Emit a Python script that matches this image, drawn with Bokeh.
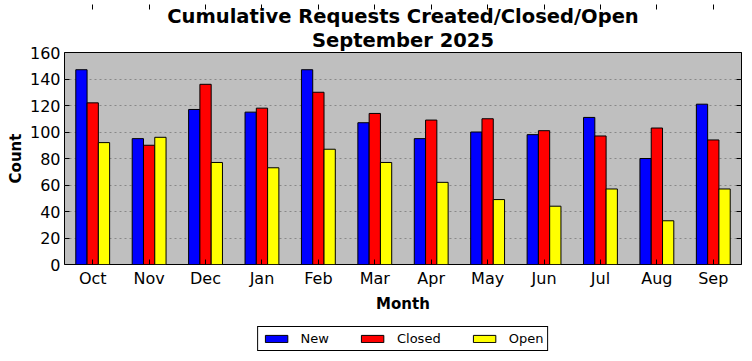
from bokeh.plotting import figure
from bokeh.models import (FactorRange, Range1d, ColumnDataSource, Legend, LegendItem,
                          CategoricalAxis, LinearAxis, Title, SingleIntervalTicker, Spacer)
from bokeh.layouts import column
from bokeh.transform import dodge
from bokeh.embed import file_html
from bokeh.resources import INLINE

months = ["Oct", "Nov", "Dec", "Jan", "Feb", "Mar", "Apr", "May", "Jun", "Jul", "Aug", "Sep"]
new_vals = [147, 95, 117, 115, 147, 107, 95, 100, 98, 111, 80, 121]
closed_vals = [122, 90, 136, 118, 130, 114, 109, 110, 101, 97, 103, 94]
open_vals = [92, 96, 77, 73, 87, 77, 62, 49, 44, 57, 33, 57]
series_names = ["New", "Closed", "Open"]
series_colors = ["blue", "red", "yellow"]

src = ColumnDataSource(dict(month=months, new=new_vals, closed=closed_vals, open=open_vals))
cols = ["new", "closed", "open"]
offsets = [-0.2, 0.0, 0.2]

FONT = "DejaVu Sans"
W = 743

p = figure(width=W, height=311, output_backend="svg", toolbar_location=None,
           x_range=FactorRange(*months, range_padding=0), y_range=Range1d(0, 160),
           min_border_left=64, min_border_right=2, min_border_top=0, min_border_bottom=50)
p.background_fill_color = "#bfbfbf"
p.border_fill_color = "white"
p.outline_line_color = "black"
p.outline_line_width = 1

p.title = None
p.add_layout(Title(text="September 2025", align="center", text_font=FONT,
                   text_font_size="19.5px", text_font_style="bold", text_color="black",
                   offset=0, standoff=1), "above")
p.add_layout(Title(text="Cumulative Requests Created/Closed/Open", align="center", text_font=FONT,
                   text_font_size="19.5px", text_font_style="bold", text_color="black",
                   standoff=-3), "above")

for off, col, color in zip(offsets, cols, series_colors):
    p.vbar(x=dodge("month", off, range=p.x_range), top=col, width=0.2, source=src,
           fill_color=color, line_color="black", line_width=1)

# grid
p.xgrid.grid_line_color = None
p.ygrid.grid_line_color = "#888888"
p.ygrid.grid_line_dash = "2 3"
p.ygrid.grid_line_width = 1

def style_axis(ax, show_labels=True):
    ax.major_tick_in = 5
    ax.major_tick_out = 0
    ax.minor_tick_in = 0
    ax.minor_tick_out = 0
    ax.axis_line_color = None
    ax.major_tick_line_color = "black"
    ax.major_label_text_font = FONT
    ax.major_label_text_font_size = "16px" if show_labels else "0px"
    ax.major_label_text_color = "black" if show_labels else None
    ax.axis_label_text_font = FONT
    ax.axis_label_text_font_size = "15px"
    ax.axis_label_text_font_style = "bold"
    ax.axis_label_text_color = "black"

xa = p.xaxis[0]
style_axis(xa)
xa.axis_label = "Month"
xa.major_label_standoff = 4
xa.axis_label_standoff = 4

ya = p.yaxis[0]
ya.ticker = SingleIntervalTicker(interval=20)
style_axis(ya)
ya.axis_label = "Count"
ya.major_label_standoff = 4
ya.axis_label_standoff = 2

top = CategoricalAxis()
style_axis(top, False)
top.major_label_standoff = 0
p.add_layout(top, "above")

right = LinearAxis(ticker=SingleIntervalTicker(interval=20))
style_axis(right, False)
right.major_label_standoff = 0
p.add_layout(right, "right")

# legend strip below the chart (its renderers lie outside its visible range)
lg = figure(width=W, height=38, output_backend="svg", toolbar_location=None,
            x_range=FactorRange(*months), y_range=Range1d(1000, 1001),
            x_axis_type=None, y_axis_type=None,
            min_border_left=0, min_border_right=0, min_border_top=0, min_border_bottom=0,
            outline_line_color=None)
lg.grid.visible = False
lg.border_fill_color = "white"
lg.background_fill_color = "white"
items = []
for name, col, color in zip(series_names, cols, series_colors):
    r = lg.vbar(x="month", top=col, width=0.2, source=src,
                fill_color=color, line_color="black", line_width=1)
    items.append(LegendItem(label=name, renderers=[r]))

legend = Legend(items=items, orientation="horizontal", location="top_center")
legend.border_line_color = "black"
legend.border_line_width = 1
legend.border_line_alpha = 1
legend.background_fill_color = "white"
legend.background_fill_alpha = 1
legend.label_text_font = FONT
legend.label_text_font_size = "13px"
legend.label_text_color = "black"
legend.glyph_width = 28
legend.glyph_height = 9
legend.label_height = 14
legend.label_standoff = 11
legend.spacing = 29
legend.padding = 4
legend.margin = 11
lg.add_layout(legend)

layout = column(Spacer(width=W, height=4), p, lg, spacing=0)
open("out.html", "w").write(file_html(layout, INLINE))
